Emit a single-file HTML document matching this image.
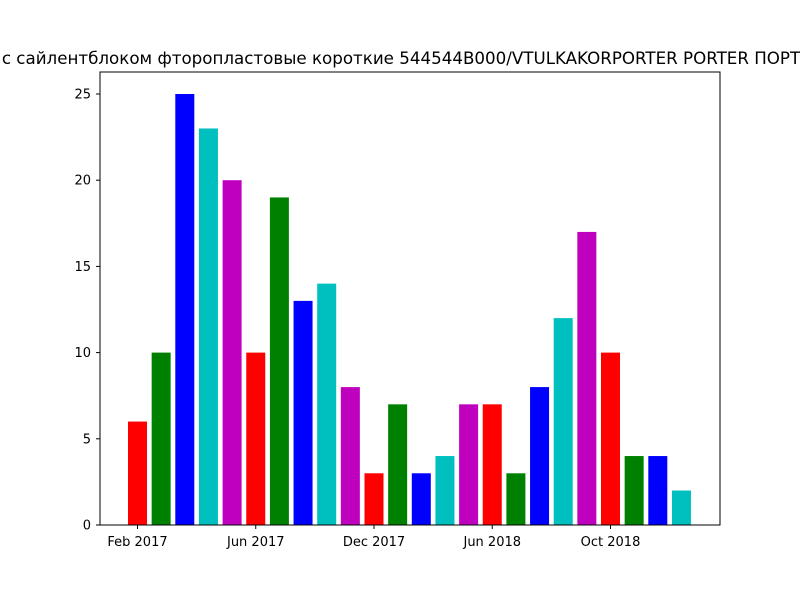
<!DOCTYPE html>
<html><head><meta charset="utf-8">
<style>body{margin:0;background:#fff;width:800px;height:600px;overflow:hidden}svg text{font-family:"DejaVu Sans","Liberation Sans",sans-serif}</style>
</head><body>
<svg id="chart" width="800" height="600" xmlns="http://www.w3.org/2000/svg">
<text x="401" y="64" font-size="16.7" text-anchor="middle">с сайлентблоком фторопластовые короткие 544544B000/VTULKAKORPORTER PORTER ПОРТ</text>
<g id="bars"></g>
<rect x="100" y="72" width="620" height="453" fill="none" stroke="#000" stroke-width="1"/>
<g id="axes"></g>
</svg>
<script>
const values = [6,10,25,23,20,10,19,13,14,8,3,7,3,4,7,7,3,8,12,17,10,4,4,2];
const xTickIndex = [0,5,10,15,20];
const xTickLabels = ["Feb 2017","Jun 2017","Dec 2017","Jun 2018","Oct 2018"];
const yTicks = [0,5,10,15,20,25];
const colors = ["#ff0000","#008000","#0000ff","#00bfbf","#bf00bf"];
const NS="http://www.w3.org/2000/svg";
const xs = i => 137.5 + 23.65*i;
const ys = v => 525 - v*17.24;
const bars=document.getElementById('bars'), axes=document.getElementById('axes');
values.forEach((v,i)=>{
  const r=document.createElementNS(NS,'rect');
  r.setAttribute('x',xs(i)-9.5); r.setAttribute('width',19);
  r.setAttribute('y',ys(v)); r.setAttribute('height',525-ys(v));
  r.setAttribute('fill',colors[i%5]);
  
  
  bars.appendChild(r);
});
yTicks.forEach(t=>{
  const y=ys(t);
  const l=document.createElementNS(NS,'line');
  l.setAttribute('x1',96);l.setAttribute('x2',100);l.setAttribute('y1',y);l.setAttribute('y2',y);l.setAttribute('stroke','#000');
  
  
  axes.appendChild(l);
  const tx=document.createElementNS(NS,'text');
  tx.setAttribute('x',91);tx.setAttribute('y',y+4.5);tx.setAttribute('font-size','13');tx.setAttribute('text-anchor','end');
  tx.textContent=t;
  
  
  axes.appendChild(tx);
});
xTickIndex.forEach((idx,k)=>{
  const x=xs(idx);
  const l=document.createElementNS(NS,'line');
  l.setAttribute('x1',x);l.setAttribute('x2',x);l.setAttribute('y1',525);l.setAttribute('y2',529);l.setAttribute('stroke','#000');
  
  
  axes.appendChild(l);
  const tx=document.createElementNS(NS,'text');
  tx.setAttribute('x',x);tx.setAttribute('y',546);tx.setAttribute('font-size','13');tx.setAttribute('text-anchor','middle');
  tx.textContent=xTickLabels[k];
  
  
  axes.appendChild(tx);
});
</script>
</body></html>
